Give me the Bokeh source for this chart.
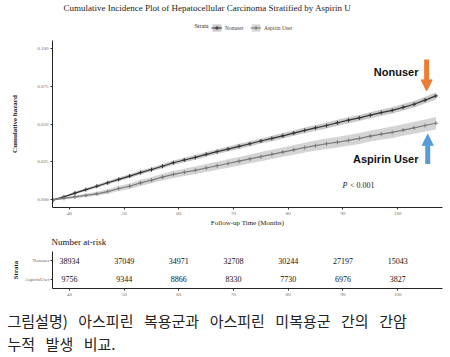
from bokeh.plotting import figure
from bokeh.layouts import column
from bokeh.models import (Range1d, FactorRange, FixedTicker, Legend, LegendItem, Label,
                          Arrow, NormalHead, NumeralTickFormatter, Title)
from bokeh.core.properties import value
from bokeh.embed import file_html
from bokeh.resources import INLINE

# ---------------- data ----------------
months = [37, 39, 41, 43, 45, 47, 49, 51, 53, 55, 57, 59, 61, 63, 65, 67, 69, 71,
          73, 75, 77, 79, 81, 83, 85, 87, 89, 91, 93, 95, 97, 99, 101, 103, 105, 107]
nonuser_haz = [0.0, 0.002, 0.0045, 0.0068, 0.009, 0.0113, 0.0135, 0.0157, 0.018, 0.020,
               0.0222, 0.0245, 0.0263, 0.028, 0.030, 0.0318, 0.0335, 0.0353, 0.037, 0.0388,
               0.0405, 0.0422, 0.044, 0.0458, 0.0475, 0.049, 0.0508, 0.0525, 0.054, 0.0558,
               0.0575, 0.059, 0.061, 0.063, 0.0657, 0.0685]
nonuser_ci = [0.0004, 0.0006, 0.0008, 0.0009, 0.001, 0.0011, 0.0012, 0.0012, 0.0013, 0.0013,
              0.0014, 0.0014, 0.0015, 0.0015, 0.0016, 0.0016, 0.0016, 0.0017, 0.0017, 0.0017,
              0.0018, 0.0018, 0.0018, 0.0019, 0.0019, 0.0019, 0.002, 0.002, 0.002, 0.002,
              0.0021, 0.0021, 0.0021, 0.0022, 0.0022, 0.0023]
aspirin_haz = [0.0, 0.001, 0.002, 0.003, 0.004, 0.0055, 0.0075, 0.009, 0.0112, 0.013,
               0.015, 0.0168, 0.0182, 0.0195, 0.021, 0.0225, 0.024, 0.0255, 0.027, 0.0285,
               0.030, 0.0315, 0.033, 0.0345, 0.0358, 0.037, 0.038, 0.0392, 0.0405, 0.042,
               0.0433, 0.0445, 0.046, 0.0475, 0.049, 0.0505]
aspirin_ci = [0.0003, 0.0006, 0.0009, 0.0011, 0.0013, 0.0015, 0.0017, 0.0018, 0.002, 0.0021,
              0.0022, 0.0023, 0.0024, 0.0025, 0.0026, 0.0027, 0.0028, 0.0028, 0.0029, 0.003,
              0.003, 0.0031, 0.0032, 0.0032, 0.0033, 0.0034, 0.0034, 0.0035, 0.0036, 0.0036,
              0.0037, 0.0038, 0.0038, 0.0039, 0.004, 0.0041]
strata = ["Nonuser", "Aspirin User"]
table_rows = ["Nonuser", "AspirinUser"]
risk_times = [40, 50, 60, 70, 80, 90, 100]
risk_nonuser = [38934, 37049, 34971, 32708, 30244, 27197, 15043]
risk_aspirin = [9756, 9344, 8866, 8330, 7730, 6976, 3827]
x_ticks = [40, 50, 60, 70, 80, 90, 100]
y_ticks = [0.0, 0.025, 0.05, 0.075, 0.1]
title_text = "Cumulative Incidence Plot of Hepatocellular Carcinoma Stratified by Aspirin U"
caption_line1 = ["그림설명)", "아스피린", "복용군과", "아스피린", "미복용군", "간의", "간암"]
caption_line2 = ["누적", "발생", "비교."]

SERIF = "Liberation Serif"
SANS = "Liberation Sans"
KR = "Noto Sans CJK KR"
X_RANGE = (36.9, 108.2)
LINE_COLORS = ["#333333", "#7a7a7a"]
BAND_COLORS = ["#bfbfbf", "#cccccc"]
LEFT, RIGHT = 52, 8
WORD_GAP = "\u2002\u2009"   # justified-looking word spacing of the caption


def style_axes(fig):
    for ax in (fig.xaxis[0], fig.yaxis[0]):
        ax.axis_line_color = "#222222"
        ax.axis_line_width = 1
        ax.major_tick_line_color = "#333333"
        ax.major_tick_out = 2
        ax.major_tick_in = 0
        ax.minor_tick_line_color = None
        ax.major_label_text_font = SERIF
        ax.major_label_text_font_size = "5px"
        ax.major_label_text_color = "#6b6b6b"
        ax.major_label_standoff = 2
        ax.axis_label_text_font = SERIF
        ax.axis_label_text_color = "#222222"
    fig.xgrid.visible = False
    fig.ygrid.visible = False
    fig.outline_line_color = None


def blank(height, yr, top=0):
    f = figure(width=450, height=height, x_range=Range1d(LEFT, 450 - RIGHT), y_range=Range1d(*yr),
               output_backend="svg", toolbar_location=None,
               x_axis_location=None, y_axis_location=None,
               min_border=0, min_border_left=LEFT, min_border_right=RIGHT,
               min_border_top=top, min_border_bottom=0)
    f.grid.visible = False
    f.outline_line_color = None
    return f


# ---------------- header: title + legend (x in page pixels) ----------------
h = blank(36, (36, 0))
h.text(x=[63], y=[7], text=[title_text], text_align="left", text_baseline="middle",
       text_font=value(SERIF), text_font_size="9px", text_color="#222222")
h.text(x=[194], y=[25], text=["Strata"], text_align="left", text_baseline="middle",
       text_font=value(SERIF), text_font_size="6px", text_color="#222222")
items_h = []
for name, lc, bc in zip(strata, LINE_COLORS, BAND_COLORS):
    b = h.varea(x=[60, 70], y1=[-5, -5], y2=[-4, -4], fill_color=bc, fill_alpha=0.85)
    l = h.line([60, 70], [-5, -5], line_color=lc, line_width=1)
    m = h.scatter([60], [-5], marker="cross", size=5, line_color=lc, line_width=1)
    items_h.append(LegendItem(label=name, renderers=[b, l, m]))
legend = Legend(items=items_h, orientation="horizontal", location=(211 - LEFT, 4),
                label_text_font=SERIF, label_text_font_size="5.5px",
                glyph_width=11, glyph_height=9, label_standoff=3, spacing=5, padding=2, margin=0,
                background_fill_alpha=0, border_line_color=None)
h.add_layout(legend)

# ---------------- main plot ----------------
p = figure(width=450, height=193, x_range=Range1d(*X_RANGE), y_range=Range1d(-0.005, 0.105),
           output_backend="svg", toolbar_location=None,
           min_border_left=LEFT, min_border_right=RIGHT, min_border_top=4, min_border_bottom=20)
style_axes(p)
p.xaxis.ticker = FixedTicker(ticks=x_ticks)
p.yaxis.ticker = FixedTicker(ticks=y_ticks)
p.yaxis.formatter = NumeralTickFormatter(format="0.000")
p.xaxis.axis_label = "Follow-up Time (Months)"
p.xaxis.axis_label_text_font_size = "7px"
p.xaxis.axis_label_text_font_style = "normal"
p.xaxis.axis_label_standoff = 1
p.yaxis.axis_label = "Cumulative hazard"
p.yaxis.axis_label_text_font_size = "7px"
p.yaxis.axis_label_text_font_style = "bold"
p.yaxis.axis_label_standoff = 15

for haz, ci, lc, bc in zip([nonuser_haz, aspirin_haz], [nonuser_ci, aspirin_ci],
                           LINE_COLORS, BAND_COLORS):
    lo = [v - e for v, e in zip(haz, ci)]
    hi = [v + e for v, e in zip(haz, ci)]
    p.varea(x=months, y1=lo, y2=hi, fill_color=bc, fill_alpha=0.85)
    p.line(months, haz, line_color=lc, line_width=1.2)
    p.scatter(months, haz, marker="cross", size=4, line_color=lc, line_width=1)

p.add_layout(Label(x=103.8, y=0.0841, text="Nonuser", text_align="right", text_baseline="middle",
                   text_font=SANS, text_font_style="bold", text_font_size="11px", text_color="#111111"))
p.add_layout(Label(x=103.8, y=0.0269, text="Aspirin User", text_align="right", text_baseline="middle",
                   text_font=SANS, text_font_style="bold", text_font_size="11px", text_color="#111111"))
p.add_layout(Arrow(x_start=105.3, y_start=0.0925, x_end=105.3, y_end=0.0718,
                   line_color="#ED7D31", line_width=5,
                   end=NormalHead(size=11, fill_color="#ED7D31", line_color="#ED7D31")))
p.add_layout(Arrow(x_start=105.5, y_start=0.0237, x_end=105.5, y_end=0.0432,
                   line_color="#5B9BD5", line_width=5,
                   end=NormalHead(size=11, fill_color="#5B9BD5", line_color="#5B9BD5")))
p.add_layout(Label(x=89.9, y=0.0097, text="P", text_align="left", text_baseline="middle",
                   text_font=SERIF, text_font_style="italic", text_font_size="8px", text_color="#222222"))
p.add_layout(Label(x=91.3, y=0.0097, text="< 0.001", text_align="left", text_baseline="middle",
                   text_font=SERIF, text_font_size="8px", text_color="#222222"))

# ---------------- risk table ----------------
t = figure(width=450, height=71, x_range=Range1d(*X_RANGE),
           y_range=FactorRange(factors=list(reversed(table_rows))),
           output_backend="svg", toolbar_location=None,
           min_border_left=LEFT, min_border_right=RIGHT, min_border_top=17, min_border_bottom=12)
t.title.text = "Number at-risk"
t.title.text_font = SERIF
t.title.text_font_size = "9px"
t.title.text_font_style = "normal"
t.title.text_color = "#111111"
t.title.align = "left"
t.title.offset = -1
style_axes(t)
t.xaxis.ticker = FixedTicker(ticks=x_ticks)
t.yaxis.axis_label = "Strata"
t.yaxis.axis_label_text_font_size = "7px"
t.yaxis.axis_label_text_font_style = "bold"
t.yaxis.axis_label_standoff = 2
t.yaxis.major_label_standoff = 1

tx, ty, tt = [], [], []
for row, vals in zip(table_rows, [risk_nonuser, risk_aspirin]):
    for tm, v in zip(risk_times, vals):
        tx.append(tm)
        ty.append(row)
        tt.append(str(v))
t.text(x=tx, y=ty, text=tt, text_font=value(SERIF), text_font_size="8px",
       text_align="center", text_baseline="middle", text_color="#111111")

# ---------------- caption (titles live in side panels, so they may extend past the frame) ----------------
c = blank(57, (1, 0), top=53)
for words in (caption_line2, caption_line1):
    c.add_layout(Title(text=WORD_GAP.join(words), align="left", offset=7 - LEFT, standoff=0,
                       text_font=KR, text_font_size="15px", text_font_style="normal",
                       text_color="#222222"), "above")

layout = column(h, p, t, c, spacing=0)
open("out.html", "w").write(file_html(layout, INLINE))
